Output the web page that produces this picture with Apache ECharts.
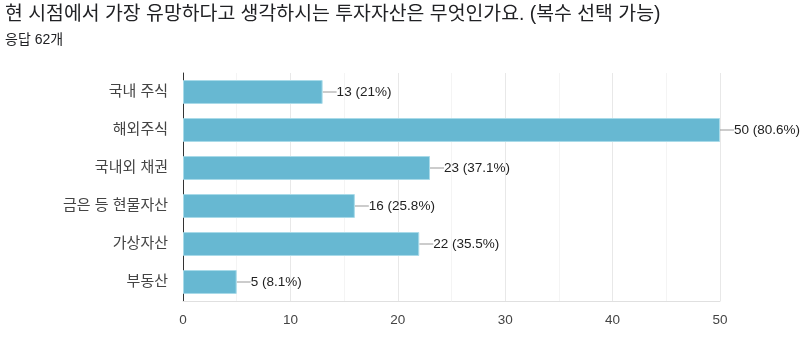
<!DOCTYPE html>
<html><head><meta charset="utf-8">
<script src="https://cdn.jsdelivr.net/npm/echarts@6/dist/echarts.min.js"></script>
<style>html,body{margin:0;padding:0;background:#fff}#c{width:800px;height:363px}</style>
</head><body><div id="c"></div>
<script>
const titleText = '현 시점에서 가장 유망하다고 생각하시는 투자자산은 무엇인가요. (복수 선택 가능)';
const subText = '응답 62개';
const categories = ['국내 주식', '해외주식', '국내외 채권', '금은 등 현물자산', '가상자산', '부동산'];
const counts = [13, 50, 23, 16, 22, 5];
const percents = ['21%', '80.6%', '37.1%', '25.8%', '35.5%', '8.1%'];
const xTicks = [0, 10, 20, 30, 40, 50];

const FONT = "'Liberation Sans', 'Noto Sans CJK KR', sans-serif";
const chart = echarts.init(document.getElementById('c'), null, {renderer: 'canvas'});
chart.setOption({
  animation: false,
  title: {
    text: titleText, subtext: subText, left: 5, top: 5, itemGap: 9, padding: 0,
    textStyle: {fontFamily: FONT, fontSize: 19.4, fontWeight: 'normal', color: '#202124'},
    subtextStyle: {fontFamily: FONT, fontSize: 14, color: '#202124'}
  },
  grid: {left: 183, right: 80, top: 73, height: 228, containLabel: false},
  xAxis: {
    type: 'value', min: xTicks[0], max: xTicks[xTicks.length - 1], interval: 10,
    axisLine: {show: true, lineStyle: {color: '#e0e0e0'}},
    axisTick: {show: false},
    axisLabel: {fontFamily: FONT, fontSize: 13.5, color: '#444', margin: 13},
    splitLine: {show: true, lineStyle: {color: '#e8e8e8'}},
    minorTick: {show: false, splitNumber: 2},
    minorSplitLine: {show: true, lineStyle: {color: '#f4f4f4'}}
  },
  yAxis: {
    type: 'category', data: categories, inverse: true,
    axisLine: {show: true, lineStyle: {color: '#333', width: 1}},
    axisTick: {show: false},
    axisLabel: {fontFamily: FONT, fontSize: 15, color: '#444', margin: 15}
  },
  series: [{
    type: 'bar', data: counts, barCategoryGap: '37%',
    itemStyle: {color: '#67b8d2', borderColor: '#a9dbe9', borderWidth: 1},
    label: {
      show: true, position: 'right', distance: 14,
      fontFamily: FONT, fontSize: 13.5, color: '#222',
      formatter: p => p.value + ' (' + percents[p.dataIndex] + ')'
    },
    z: 3
  }, {
    type: 'custom', data: counts.map((v, i) => [v, i]), z: 2,
    renderItem: function (params, api) {
      const pt = api.coord([api.value(0), api.value(1)]);
      return {type: 'line', shape: {x1: pt[0], y1: pt[1], x2: pt[0] + 14, y2: pt[1]},
        style: {stroke: '#999', lineWidth: 1}};
    }
  }]
});
</script></body></html>
